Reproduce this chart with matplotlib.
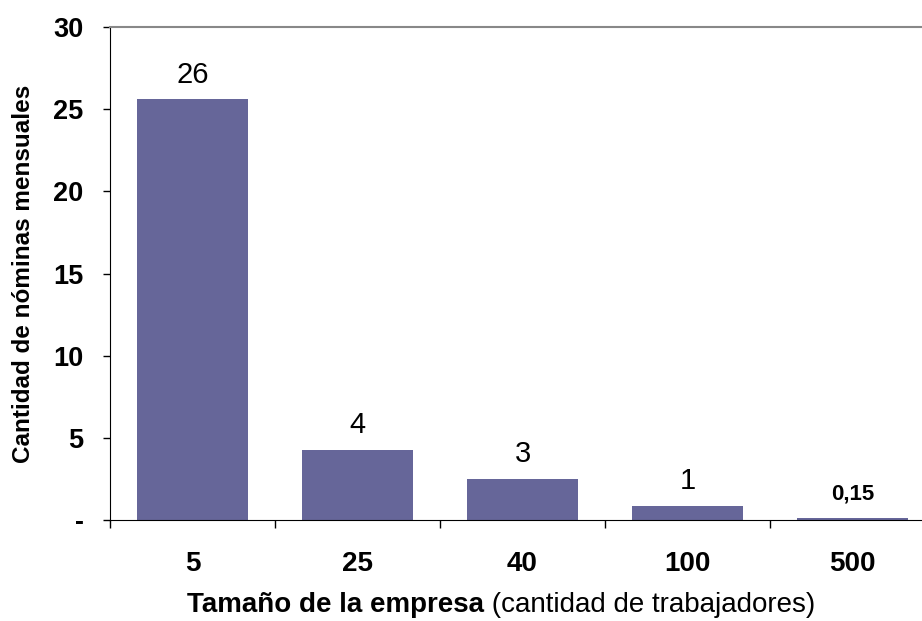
import matplotlib
matplotlib.use("Agg")
import matplotlib.pyplot as plt

plt.rcParams['font.family'] = ['Liberation Sans', 'DejaVu Sans']

categories = ["5", "25", "40", "100", "500"]
values = [25.6, 4.25, 2.5, 0.85, 0.15]
labels = ["26", "4", "3", "1", "0,15"]

fig = plt.figure(figsize=(9.22, 6.21), dpi=100)
ax = fig.add_axes([110 / 922, 101 / 621, 825 / 922, 493 / 621])

x = list(range(len(categories)))
ax.bar(x, values, width=0.667, color="#666699")

for i, (v, lab) in enumerate(zip(values, labels)):
    if lab == "0,15":
        ax.annotate(lab, (i, v), xytext=(0, 13), textcoords="offset points",
                    ha="center", va="baseline", fontsize=16, fontweight="bold")
    else:
        ax.annotate(lab, (i, v), xytext=(0, 12), textcoords="offset points",
                    ha="center", va="baseline", fontsize=21)

ax.set_xlim(-0.5, len(categories) - 0.5)
ax.set_ylim(0, 30)
ax.set_yticks([0, 5, 10, 15, 20, 25, 30])
ax.set_yticklabels(["-", "5", "10", "15", "20", "25", "30"], fontsize=19.5, fontweight="bold")
ax.tick_params(axis="y", length=5, width=1, pad=14)

ax.set_xticks(x)
ax.set_xticklabels(categories, fontsize=20, fontweight="bold")
ax.set_xticks([i - 0.5 for i in range(len(categories) + 1)], minor=True)
ax.tick_params(axis="x", which="major", length=0, pad=22)
ax.tick_params(axis="x", which="minor", length=6, width=1)

ax.spines["right"].set_visible(False)
ax.spines["top"].set_color("#888888")
ax.spines["top"].set_linewidth(1.5)

ax.set_ylabel("Cantidad de nóminas mensuales", fontsize=17.5, fontweight="bold", labelpad=13)

# x axis label: bold part + regular part
fig.canvas.draw()
r = fig.canvas.get_renderer()
t1 = fig.text(0, 0, "Tamaño de la empresa", fontsize=20, fontweight="bold")
t2 = fig.text(0, 0, " (cantidad de trabajadores)", fontsize=20)
w1 = t1.get_window_extent(r).width / 922
w2 = t2.get_window_extent(r).width / 922
x0 = 501 / 922 - (w1 + w2) / 2
t1.set_position((x0, 9 / 621))
t2.set_position((x0 + w1, 9 / 621))

fig.savefig("out.png", dpi=100)
